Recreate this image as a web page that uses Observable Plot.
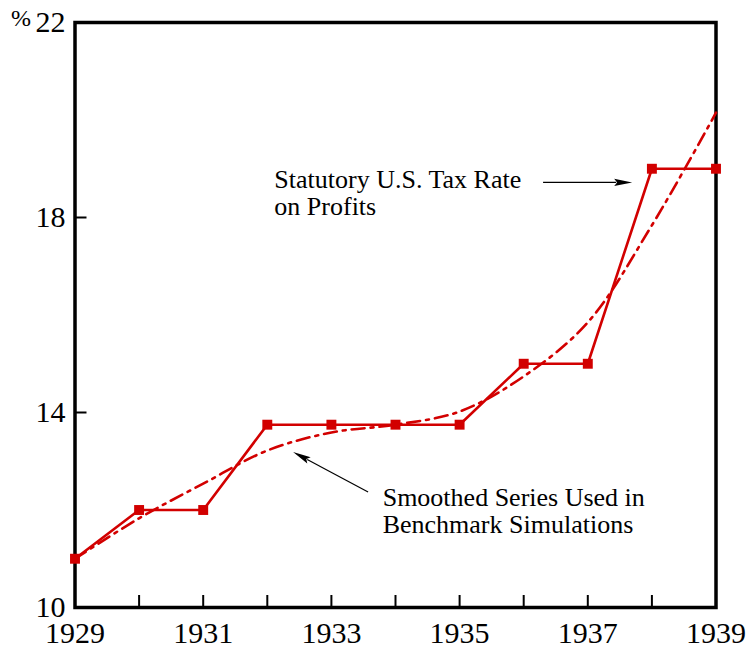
<!DOCTYPE html>
<html>
<head>
<meta charset="utf-8">
<script src="https://cdn.jsdelivr.net/npm/d3@7"></script>
<script src="https://cdn.jsdelivr.net/npm/@observablehq/plot@0.6"></script>
<style>
  html, body { margin: 0; padding: 0; background: #fff; }
</style>
</head>
<body>
<div id="chart"></div>
<script>
const years = [1929, 1930, 1931, 1932, 1933, 1934, 1935, 1936, 1937, 1938, 1939];
const statutory = [11.0, 12.0, 12.0, 13.75, 13.75, 13.75, 13.75, 15.0, 15.0, 19.0, 19.0];
const smoothed = [11.0, 11.83, 12.54, 13.22, 13.59, 13.75, 14.02, 14.74, 15.85, 17.84, 20.15];
const yTickLabels = [10, 14, 18, 22];
const yTickMarks = [14, 18];
const xTickLabels = [1929, 1931, 1933, 1935, 1937, 1939];
const unitLabel = ["%"];
const annotationTexts = ["Statutory U.S. Tax Rate\non Profits", "Smoothed Series Used in\nBenchmark Simulations"];
const annotationX = [1932.11, 1933.80];
const annotationY = [19.0, 12.47];
const arrowX1 = [1936.31, 1933.58];
const arrowY1 = [18.71, 12.36];
const arrowX2 = [1937.70, 1932.41];
const arrowY2 = [18.71, 13.18];

const red = "#d20000";
const font = "'Liberation Serif', 'Times New Roman', Times, serif";

const data = years.map((year, i) => ({year, statutory: statutory[i], smoothed: smoothed[i]}));
const annotations = annotationTexts.map((text, i) => ({text, x: annotationX[i], y: annotationY[i]}));
const arrows = arrowX1.map((x1, i) => ({x1, y1: arrowY1[i], x2: arrowX2[i], y2: arrowY2[i]}));

function arrowMark(index, scales) {
  const g = d3.create("svg:g");
  for (const a of arrows) {
    const x1 = scales.x(a.x1), y1 = scales.y(a.y1);
    const x2 = scales.x(a.x2), y2 = scales.y(a.y2);
    const dx = x2 - x1, dy = y2 - y1;
    const len = Math.hypot(dx, dy);
    const ux = dx / len, uy = dy / len;
    const hl = 18, hw = 3.6;
    const bx = x2 - ux * hl, by = y2 - uy * hl;
    g.append("line")
      .attr("x1", x1).attr("y1", y1)
      .attr("x2", bx + ux * 2).attr("y2", by + uy * 2)
      .attr("stroke", "black").attr("stroke-width", 1.2);
    g.append("path")
      .attr("d", `M${x2},${y2}L${bx - uy * hw},${by + ux * hw}L${bx + ux * 3},${by + uy * 3}L${bx + uy * hw},${by - ux * hw}Z`)
      .attr("fill", "black");
  }
  return g.node();
}

const chart = Plot.plot({
  width: 748,
  height: 649,
  marginLeft: 74.5,
  marginRight: 32.5,
  marginTop: 22,
  marginBottom: 42,
  style: {fontFamily: font, background: "#fff", color: "black", overflow: "visible"},
  x: {domain: [1929, 1939], label: null},
  y: {domain: [10, 22], label: null},
  marks: [
    Plot.axisX({ticks: years, tickSize: -12, strokeWidth: 2, tickFormat: () => "", label: null}),
    Plot.axisX({ticks: xTickLabels, tickSize: 0, tickPadding: 14, fontSize: 30, tickFormat: d => String(d), label: null}),
    Plot.axisY({ticks: yTickMarks, tickSize: -12, strokeWidth: 2, tickFormat: () => "", label: null}),
    Plot.axisY({ticks: yTickLabels, tickSize: 0, tickPadding: 9.5, fontSize: 30, tickFormat: d => String(d), label: null}),
    Plot.frame({stroke: "black", strokeWidth: 3.5}),
    Plot.text(unitLabel, {x: () => 1929, y: () => 22, textAnchor: "end", dx: -44, dy: -4, fontSize: 24, fill: "black"}),
    Plot.line(data, {x: "year", y: "smoothed", curve: "catmull-rom", stroke: red, strokeWidth: 2.6, strokeDasharray: "13,6,3,6"}),
    Plot.line(data, {x: "year", y: "statutory", stroke: red, strokeWidth: 2.6}),
    Plot.dot(data, {x: "year", y: "statutory", symbol: "square", r: 5.6, fill: red, stroke: "none"}),
    Plot.text(annotations, {x: "x", y: "y", text: "text", textAnchor: "start", lineAnchor: "top", lineHeight: 1.03, fontSize: 26, fill: "black"}),
    arrowMark
  ]
});
document.getElementById("chart").appendChild(chart);
</script>
</body>
</html>
